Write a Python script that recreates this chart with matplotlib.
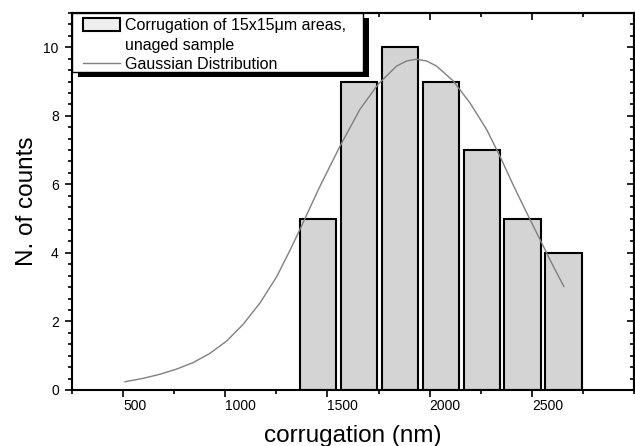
import numpy as np
import matplotlib
matplotlib.use("Agg")
import matplotlib.pyplot as plt
from matplotlib.patches import Patch, Rectangle
from matplotlib.lines import Line2D
from matplotlib.ticker import MultipleLocator, AutoMinorLocator

plt.rcParams['font.family'] = ['Liberation Sans', 'DejaVu Sans']

# histogram of corrugation values (bin centres in nm, counts)
bin_centres = [1455, 1655, 1855, 2055, 2255, 2455, 2655]
counts = [5, 9, 10, 9, 7, 5, 4]
bin_width = 178

# gaussian fit curve, read point by point
fit_x = [509, 599, 681, 762, 843, 925, 1007, 1088, 1170, 1251, 1317, 1365,
         1463, 1561, 1659, 1748, 1838, 1887, 1936, 1985, 2034, 2115, 2197,
         2279, 2344, 2409, 2475, 2540, 2605, 2657]
fit_y = [0.24, 0.34, 0.46, 0.61, 0.80, 1.07, 1.43, 1.92, 2.54, 3.30, 4.08, 4.68,
         5.94, 7.11, 8.19, 8.92, 9.45, 9.60, 9.65, 9.60, 9.45, 9.02, 8.38,
         7.60, 6.82, 5.98, 5.17, 4.39, 3.61, 3.02]

xticks = [500, 1000, 1500, 2000, 2500]
yticks = [0, 2, 4, 6, 8, 10]

fig = plt.figure(figsize=(6.35, 4.46), dpi=100)
ax = fig.add_axes([0.1134, 0.1256, 0.8850, 0.8453])

ax.bar(bin_centres, counts, width=bin_width, color='#d4d4d4',
       edgecolor='black', linewidth=1.5, zorder=2)
ax.plot(fit_x, fit_y, color='#808080', linewidth=1.0, zorder=3)

ax.set_xlim(250, 3000)
ax.set_ylim(0, 11)
ax.set_xticks(xticks)
ax.set_yticks(yticks)
ax.xaxis.set_minor_locator(MultipleLocator(250))
ax.yaxis.set_minor_locator(AutoMinorLocator(6))

for s in ax.spines.values():
    s.set_linewidth(1.5)

ax.tick_params(axis='both', which='major', direction='out', length=5,
               width=1.2, labelsize=10)
ax.tick_params(axis='both', which='minor', direction='out', length=3,
               width=1.2)
ax.tick_params(axis='x', which='major', pad=1.5)
ax.tick_params(axis='y', which='major', pad=4.5)
for lab in ax.get_xticklabels():
    lab.set_horizontalalignment('left')

# mirrored ticks on top and right, pointing inward
top = ax.secondary_xaxis('top')
top.set_xticks(xticks)
top.xaxis.set_minor_locator(MultipleLocator(250))
top.tick_params(which='major', direction='in', length=5, width=1.2,
                labeltop=False)
top.tick_params(which='minor', direction='in', length=3, width=1.2)
top.spines['top'].set_linewidth(1.5)

right = ax.secondary_yaxis('right')
right.set_yticks(yticks)
right.yaxis.set_minor_locator(AutoMinorLocator(6))
right.tick_params(which='major', direction='in', length=5, width=1.2,
                  labelright=False)
right.tick_params(which='minor', direction='in', length=3, width=1.2)
right.spines['right'].set_linewidth(1.5)

ax.set_xlabel('corrugation (nm)', fontsize=17.5, labelpad=8.5)
ax.set_ylabel('N. of counts', fontsize=17.5, labelpad=4)

# legend box with a solid black drop shadow
box_w, box_h = 0.518, 0.156
ax.add_patch(Rectangle((0.0107, 1 - box_h - 0.0146), box_w, box_h,
                       transform=ax.transAxes, facecolor='black',
                       edgecolor='none', zorder=4))
ax.add_patch(Rectangle((0, 1 - box_h), box_w, box_h, transform=ax.transAxes,
                       facecolor='white', edgecolor='black', linewidth=1.0,
                       zorder=4.5))

handles = [Patch(facecolor='#eeeeee', edgecolor='black', linewidth=1.5),
           Line2D([], [], linestyle='none'),
           Line2D([], [], color='#808080', linewidth=1.0)]
labels = ['Corrugation of 15x15\u03bcm areas,', 'unaged sample',
          'Gaussian Distribution']
leg = ax.legend(handles, labels, loc='upper left',
                bbox_to_anchor=(0.0195, 0.987), borderaxespad=0,
                borderpad=0, fontsize=11.5, frameon=False,
                handlelength=2.3, handleheight=0.9, handletextpad=0.32,
                labelspacing=0.28)
leg.set_zorder(5)

fig.savefig('out.png', dpi=100)
